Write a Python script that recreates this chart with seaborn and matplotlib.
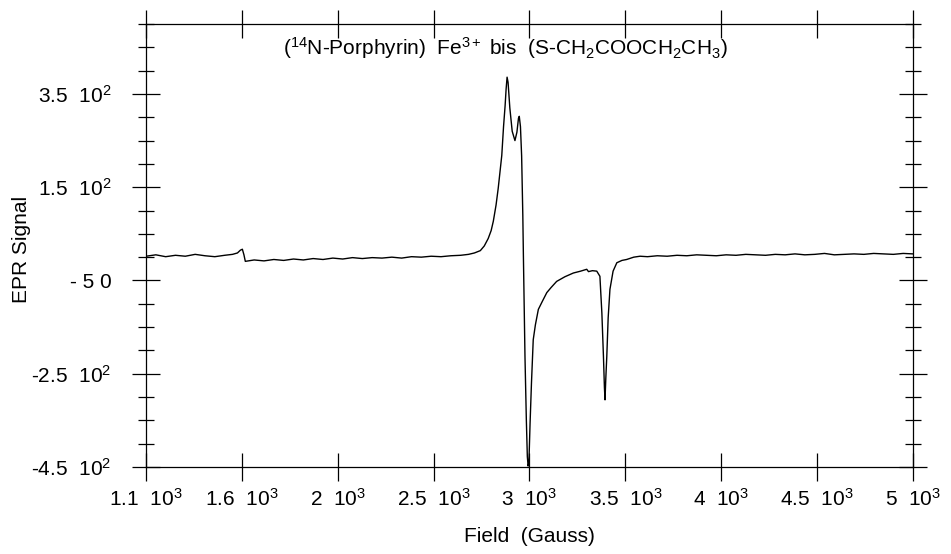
import matplotlib
matplotlib.use("Agg")
import matplotlib.pyplot as plt
import seaborn as sns
import pandas as pd
from matplotlib.ticker import MultipleLocator, FixedLocator, FixedFormatter

# ---- data ----
field = [1100, 1150, 1200, 1250, 1300, 1350, 1400, 1450, 1500, 1540, 1565, 1580, 1590, 1598,
         1605, 1620, 1650, 1700, 1750, 1800, 1850, 1900, 1950, 2000, 2050, 2100, 2150, 2200,
         2250, 2300, 2350, 2400, 2450, 2500, 2550, 2600, 2650, 2700, 2740, 2770, 2800, 2820,
         2840, 2855, 2866, 2880, 2891, 2900, 2909, 2918, 2926, 2931, 2936, 2941, 2950, 2962,
         2976, 2986, 2994, 2998, 3004, 3010, 3016, 3019, 3027, 3034, 3039, 3043, 3047, 3053,
         3060, 3069, 3080, 3095, 3115, 3138, 3160, 3188, 3230, 3273, 3310, 3341, 3350, 3370,
         3392, 3408, 3418, 3426, 3431, 3434, 3438, 3443, 3450, 3459, 3475, 3494, 3520, 3544,
         3580, 3612, 3650, 3700, 3750, 3800, 3850, 3900, 3950, 4000, 4050, 4100, 4150, 4200,
         4250, 4300, 4350, 4400, 4450, 4500, 4550, 4600, 4650, 4700, 4750, 4800, 4850, 4900,
         4950, 5000]
signal = [2, 5, 1, 4, 2, 6, 3, 1, 4, 6, 9, 15, 17, 5,
          -9, -8, -6, -8, -5, -7, -4, -6, -3, -5, -2, -4, -1, -3,
          -1, -2, 0, -2, 1, 0, 2, 1, 3, 4, 6, 9, 14, 24,
          40, 57, 77, 112, 148, 182, 218, 280, 325, 360, 386, 375, 320, 270,
          250, 268, 298, 302, 280, 217, 90, 2, -213, -350, -428, -448, -440, -355,
          -270, -177, -145, -112, -95, -76, -65, -52, -42, -34, -30, -26, -31, -29,
          -30, -41, -120, -213, -280, -306, -260, -213, -130, -69, -30, -12, -7, -5,
          0, 2, 1, 3, 2, 4, 3, 5, 4, 3, 5, 4, 6, 5,
          4, 6, 5, 7, 5, 6, 8, 5, 6, 7, 6, 8, 7, 6,
          8, 7]

x_ticks = [1100, 1587.5, 2075, 2562.5, 3050, 3537.5, 4025, 4512.5, 5000]
x_labels = [r"1.1  10$^3$", r"1.6  10$^3$", r"2  10$^3$", r"2.5  10$^3$", r"3  10$^3$",
            r"3.5  10$^3$", r"4  10$^3$", r"4.5  10$^3$", r"5  10$^3$"]
y_ticks = [350, 150, -50, -250, -450]
y_labels = [r"3.5  10$^2$", r"1.5  10$^2$", r"- 5 0", r"-2.5  10$^2$", r"-4.5  10$^2$"]

title = r"($^{14}$N-Porphyrin)  Fe$^{3+}$ bis  (S-CH$_2$COOCH$_2$CH$_3$)"

# ---- style ----
sns.set_style("ticks")
plt.rcParams["font.family"] = ["Liberation Sans", "DejaVu Sans"]
plt.rcParams["mathtext.fontset"] = "custom"
plt.rcParams["mathtext.rm"] = "Liberation Sans"
plt.rcParams["mathtext.it"] = "Liberation Sans:italic"
plt.rcParams["mathtext.bf"] = "Liberation Sans:bold"
plt.rcParams["text.color"] = "black"
plt.rcParams["axes.labelcolor"] = "black"

fig = plt.figure(figsize=(9.51, 5.54), dpi=100)
ax = fig.add_axes([146 / 951, 1 - 467 / 554, (913 - 146) / 951, (467 - 24) / 554])

df = pd.DataFrame({"Field": field, "Signal": signal})
sns.lineplot(data=df, x="Field", y="Signal", ax=ax, color="black", linewidth=1.0,
             sort=False, estimator=None)

ax.set_xlim(1100, 5000)
ax.set_ylim(-450, 500)

ax.xaxis.set_major_locator(FixedLocator(x_ticks))
ax.xaxis.set_major_formatter(FixedFormatter(x_labels))
ax.yaxis.set_major_locator(FixedLocator(y_ticks))
ax.yaxis.set_major_formatter(FixedFormatter(y_labels))
ax.yaxis.set_minor_locator(MultipleLocator(50))

ax.tick_params(axis="both", which="major", direction="inout", length=20, width=0.9,
               color="black", top=True, right=True, labelsize=15, labelcolor="black")
ax.tick_params(axis="y", which="minor", direction="inout", length=12, width=0.9,
               color="black", left=True, right=True)
ax.tick_params(axis="x", which="major", pad=5)
ax.tick_params(axis="y", which="major", pad=15)

for s in ax.spines.values():
    s.set_linewidth(0.9)
    s.set_color("black")

ax.set_xlabel("Field  (Gauss)", fontsize=15)
ax.set_ylabel("EPR Signal", fontsize=15)
ax.xaxis.set_label_coords(0.5, -0.135)
ax.yaxis.set_label_coords(-0.150, 0.49)

ax.text(0.468, 0.945, title, transform=ax.transAxes, ha="center", va="center", fontsize=15)

fig.savefig("out.png", dpi=100)
